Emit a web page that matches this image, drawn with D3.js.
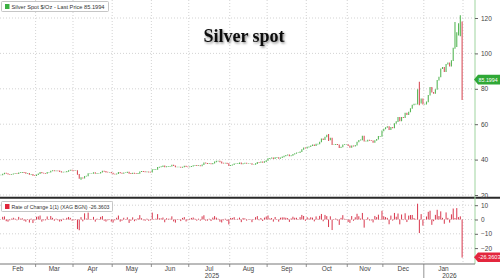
<!DOCTYPE html>
<html lang="en">
<meta charset="utf-8">
<head>
<style>
  body { margin: 0; background: #fff; }
  svg { display: block; font-family: "Liberation Sans", Arial, sans-serif; }
</style>
<script src="https://cdn.jsdelivr.net/npm/d3@7/dist/d3.min.js"></script>
</head>
<body>
<script>
// daily closes, one per weekday, Feb 3 2025 .. Jan 30 2026
var closes = [
  // Feb
  31.5, 32.0, 32.6, 32.3, 31.9, 31.8, 31.9, 32.2, 32.3, 32.2, 32.7, 32.8, 33.0, 32.8, 32.4, 32.4, 31.8, 31.9, 31.2, 31.1,
  // Mar
  31.6, 32.2, 33.0, 32.6, 32.5, 32.4, 33.0, 33.0, 33.7, 34.0, 33.8, 33.9, 33.8, 33.4, 33.1, 33.2, 33.2, 33.5, 34.0, 34.3, 34.1,
  // Apr
  34.0, 34.0, 31.8, 29.5, 29.9, 29.6, 30.8, 30.9, 32.3, 32.3, 32.3, 32.8, 32.4, 32.5, 32.5, 33.0, 33.7, 33.5, 33.1, 33.0, 33.0, 32.6,
  // May
  32.0, 31.9, 32.2, 33.0, 32.6, 32.4, 32.7, 32.7, 33.1, 32.4, 32.2, 32.6, 32.3, 32.2, 32.4, 33.3, 33.5, 33.4, 33.2, 33.3, 33.1, 33.0,
  // Jun
  34.5, 34.5, 34.6, 35.8, 36.0, 36.2, 36.6, 36.0, 36.2, 36.3, 36.4, 37.1, 36.7, 36.0, 36.0, 36.0, 35.7, 36.0, 36.5, 36.1, 36.0,
  // Jul
  36.1, 36.4, 36.8, 36.9, 36.7, 36.8, 36.6, 37.3, 38.3, 38.1, 37.9, 38.0, 37.7, 38.1, 38.9, 39.3, 39.4, 38.9, 38.2, 38.1, 38.2, 37.9, 36.7,
  // Aug
  37.0, 37.3, 37.8, 37.8, 37.9, 38.3, 37.7, 38.0, 38.2, 38.0, 38.0, 38.0, 37.4, 37.4, 37.9, 38.7, 38.6, 38.9, 38.6, 39.0, 39.7,
  // Sep
  40.7, 40.9, 41.2, 40.7, 41.3, 41.3, 40.8, 41.2, 41.7, 42.2, 42.6, 42.9, 42.3, 42.5, 43.2, 43.6, 44.0, 44.0, 44.6, 45.9, 46.9, 46.6,
  // Oct
  47.2, 47.4, 48.0, 48.5, 48.0, 48.9, 49.0, 50.1, 51.9, 51.4, 52.9, 54.0, 51.3, 52.3, 48.6, 48.6, 48.8, 48.6, 46.9, 47.3, 48.6, 48.7, 48.7,
  // Nov
  48.0, 47.0, 48.0, 47.7, 48.3, 50.1, 51.1, 51.3, 53.5, 50.6, 50.6, 51.2, 51.0, 50.8, 49.9, 51.0, 51.7, 53.3, 53.3, 56.4,
  // Dec
  57.5, 58.3, 58.8, 57.0, 58.4, 58.1, 60.6, 61.6, 64.0, 62.0, 64.0, 63.9, 66.5, 65.5, 67.1, 69.0, 71.0, 71.5, 71.6, 79.3, 72.0, 74.5, 71.5,
  // Jan
  71.5, 72.8, 76.5, 81.0, 78.2, 77.5, 79.8, 85.0, 86.8, 91.5, 92.3, 89.8, 94.0, 94.8, 93.0, 96.1, 103.2, 104.0, 112.0, 113.5, 115.7, 85.1994
];

// intraday extremes that stick out of the bars
var wickDates = ["2025-04-07", "2025-10-17", "2025-12-26", "2025-12-29", "2026-01-26", "2026-01-28", "2026-01-29", "2026-01-30"];
var wickHighs = [30.0, 54.5, 79.8, 84.0, 117.7, 117.0, 121.6, 118.0];
var wickLows  = [29.0, 50.8, 71.4, 71.0, 103.0, 110.5, 110.0, 74.0];

var priceTicks = [20, 40, 60, 80, 100, 120];
var rocTicks = [10, 0, -10, -20];
var monthLabels = ["Feb", "Mar", "Apr", "May", "Jun", "Jul", "Aug", "Sep", "Oct", "Nov", "Dec", "Jan"];
var yearLabels = ["2025", "2026"];
var lastPrice = "85.1994";
var lastRoc = "-26.3603";

var width = 500, height = 278;
var axisX = 475;
var sepY = 197.7;
var bottomY = 264;

var days = d3.timeDay.range(new Date(2025, 1, 3), new Date(2026, 0, 31))
    .filter(function (d) { return d.getDay() % 6 !== 0; });
var fmt = d3.timeFormat("%Y-%m-%d");

var bars = days.map(function (d, i) {
    var c = closes[i];
    var o = i ? closes[i - 1] : c;
    var b = { i: i, date: d, open: o, close: c, high: Math.max(o, c), low: Math.min(o, c) };
    var k = wickDates.indexOf(fmt(d));
    if (k >= 0) { b.high = Math.max(b.high, wickHighs[k]); b.low = Math.min(b.low, wickLows[k]); }
    b.roc = i ? (c / o - 1) * 100 : null;
    return b;
});

var x = d3.scaleLinear().domain([0, days.length]).range([0, 463]);
var y = d3.scaleLinear().domain([20, 120]).range([195, 18]);
var yr = d3.scaleLinear().domain([-20, 10]).range([248.1, 205.2]);

var svg = d3.select("body").append("svg")
    .attr("width", width)
    .attr("height", height);

var defs = svg.append("defs");
defs.append("clipPath").attr("id", "clipTop")
    .append("rect").attr("x", 0).attr("y", 0).attr("width", axisX).attr("height", sepY - 1);
defs.append("clipPath").attr("id", "clipLow")
    .append("rect").attr("x", 0).attr("y", sepY + 1).attr("width", axisX).attr("height", bottomY - sepY - 1);
var shadow = defs.append("filter").attr("id", "shadow").attr("x", "-10%").attr("y", "-30%").attr("width", "130%").attr("height", "170%");
shadow.append("feDropShadow").attr("dx", 1.2).attr("dy", 1.5).attr("stdDeviation", 1)
    .attr("flood-color", "#000").attr("flood-opacity", 0.45);

// month boundaries
var monthStarts = [0];
bars.forEach(function (b, i) {
    if (i && b.date.getMonth() !== bars[i - 1].date.getMonth()) monthStarts.push(i);
});
var monthEdges = monthStarts.map(function (i) { return x(i); }).concat([x(days.length)]);

// grid
var grid = svg.append("g").attr("stroke", "#c8c8c8").attr("stroke-dasharray", "1,2").attr("stroke-width", 0.8);
grid.selectAll(".vg").data(monthEdges.slice(1)).enter().append("line")
    .attr("x1", function (d) { return d; }).attr("x2", function (d) { return d; })
    .attr("y1", 0).attr("y2", bottomY);
grid.selectAll(".hg").data(priceTicks).enter().append("line")
    .attr("x1", 0).attr("x2", axisX)
    .attr("y1", function (d) { return y(d); }).attr("y2", function (d) { return y(d); });
grid.selectAll(".hr").data(rocTicks).enter().append("line")
    .attr("x1", 0).attr("x2", axisX)
    .attr("y1", function (d) { return yr(d); }).attr("y2", function (d) { return yr(d); });

// title
svg.append("text")
    .attr("x", 244).attr("y", 42)
    .attr("text-anchor", "middle")
    .attr("font-family", "'Liberation Serif', 'Times New Roman', serif")
    .attr("font-weight", "bold")
    .attr("font-size", 18)
    .attr("fill", "#111")
    .attr("filter", "url(#shadow)")
    .text("Silver spot");

// price bars
var green = "#58b858", red = "#d9505a";
svg.append("g").attr("clip-path", "url(#clipTop)")
    .selectAll("line").data(bars).enter().append("line")
    .attr("x1", function (d) { return x(d.i + 0.5); })
    .attr("x2", function (d) { return x(d.i + 0.5); })
    .attr("y1", function (d) { return y(d.high); })
    .attr("y2", function (d) { return y(d.low) + 0.6; })
    .attr("stroke", function (d) { return d.close >= d.open ? green : red; })
    .attr("stroke-width", 1.1);

// rate of change bars
svg.append("g").attr("clip-path", "url(#clipLow)")
    .selectAll("line").data(bars.filter(function (b) { return b.roc !== null; })).enter().append("line")
    .attr("x1", function (d) { return x(d.i + 0.5); })
    .attr("x2", function (d) { return x(d.i + 0.5); })
    .attr("y1", yr(0))
    .attr("y2", function (d) { return yr(d.roc) + (d.roc >= 0 ? -0.4 : 0.4); })
    .attr("stroke", "#d8364c")
    .attr("stroke-width", 1);

// panel separator
svg.append("line")
    .attr("x1", 0).attr("x2", width).attr("y1", sepY).attr("y2", sepY)
    .attr("stroke", "#2a2a2a").attr("stroke-width", 2);

// right axis
svg.append("line")
    .attr("x1", axisX).attr("x2", axisX).attr("y1", 0).attr("y2", bottomY)
    .attr("stroke", "#9fd49f").attr("stroke-width", 1);

var yAxis = d3.axisRight(y).tickValues(priceTicks).tickSize(3).tickPadding(3);
var gy = svg.append("g").attr("transform", "translate(" + axisX + ",0)").call(yAxis);
var yrAxis = d3.axisRight(yr).tickValues(rocTicks).tickSize(3).tickPadding(3);
var gyr = svg.append("g").attr("transform", "translate(" + axisX + ",0)").call(yrAxis);
[gy, gyr].forEach(function (g) {
    g.select(".domain").remove();
    g.selectAll(".tick line").attr("stroke", "#666");
    g.selectAll(".tick text").attr("font-size", 6.5).attr("fill", "#444")
        .attr("font-family", "'Liberation Sans', Arial, sans-serif");
});

// last value tags
function tag(cy, txt, fill) {
    var g = svg.append("g");
    g.append("path")
        .attr("d", "M" + (axisX - 1) + "," + cy + "L" + (axisX + 3) + "," + (cy - 4.8) + "H500V" + (cy + 4.8) + "H" + (axisX + 3) + "Z")
        .attr("fill", fill);
    g.append("text").attr("x", axisX + 3.5).attr("y", cy + 2.1)
        .attr("font-size", 5.8).attr("fill", "#fff")
        .attr("textLength", txt.length * 2.75).attr("lengthAdjust", "spacingAndGlyphs")
        .text(txt);
}
tag(y(+lastPrice), lastPrice, "#2fa836");
tag(yr(+lastRoc), lastRoc, "#e3263d");

// bottom time axis
var gx = svg.append("g");
gx.append("line").attr("x1", 0).attr("x2", axisX).attr("y1", bottomY).attr("y2", bottomY)
    .attr("stroke", "#777").attr("stroke-width", 1);
gx.selectAll(".mt").data(monthEdges.slice(1, -1)).enter().append("line")
    .attr("x1", function (d) { return d; }).attr("x2", function (d) { return d; })
    .attr("y1", bottomY).attr("y2", function (d, i) { return i === 10 ? height : bottomY + 3; })
    .attr("stroke", "#777").attr("stroke-width", 0.8);
gx.selectAll(".ml").data(monthLabels).enter().append("text")
    .attr("x", function (d, i) { return (monthEdges[i] + monthEdges[i + 1]) / 2; })
    .attr("y", 270.5)
    .attr("text-anchor", "middle")
    .attr("font-size", 6.5).attr("fill", "#444")
    .text(function (d) { return d; });
var yearBreak = monthEdges[11];
gx.selectAll(".yl").data(yearLabels).enter().append("text")
    .attr("x", function (d, i) { return i ? (yearBreak + axisX) / 2 : yearBreak / 2; })
    .attr("y", 277.5)
    .attr("text-anchor", "middle")
    .attr("font-size", 6.5).attr("fill", "#444")
    .text(function (d) { return d; });

// legends
function legend(yTop, w, color, txt, txtLen) {
    var g = svg.append("g");
    g.append("rect").attr("x", 1.5).attr("y", yTop).attr("width", w).attr("height", 10)
        .attr("fill", "#fff").attr("stroke", "#b8b8b8").attr("stroke-width", 0.8).attr("rx", 1);
    g.append("rect").attr("x", 5).attr("y", yTop + 2.5).attr("width", 4.5).attr("height", 5).attr("fill", color);
    g.append("text").attr("x", 11.5).attr("y", yTop + 7.3)
        .attr("font-size", 6.2).attr("fill", "#333")
        .attr("textLength", txtLen).attr("lengthAdjust", "spacingAndGlyphs")
        .text(txt);
}
legend(1.5, 107, "#3cb043", "Silver Spot $/Oz - Last Price " + lastPrice, 93);
legend(201.5, 111, "#e0263c", "Rate of Change 1(1) (XAG BGN) " + lastRoc, 98);
</script>
</body>
</html>
